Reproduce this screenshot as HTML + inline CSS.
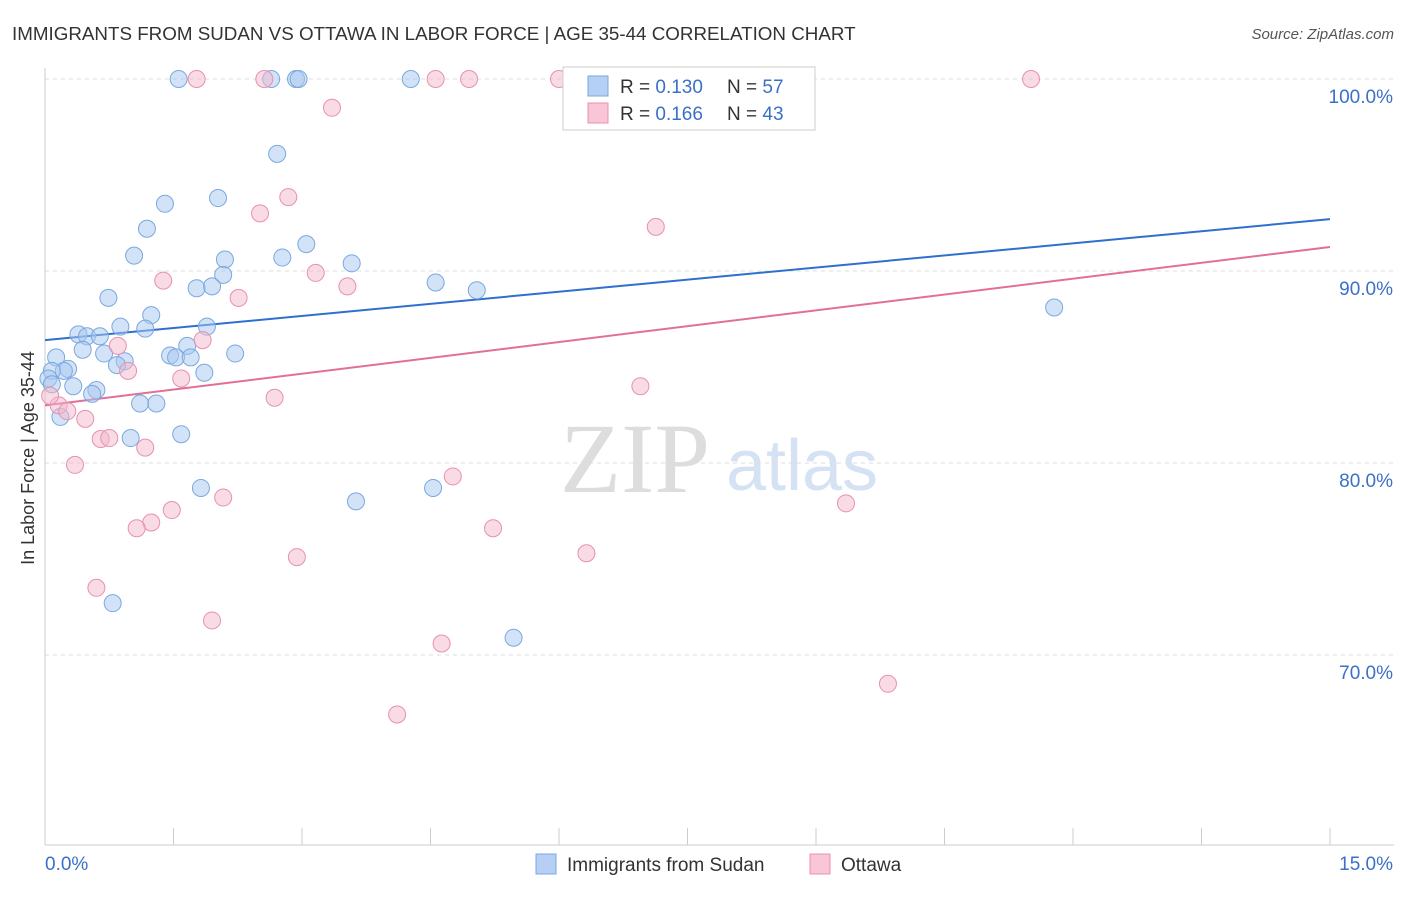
<!DOCTYPE html>
<html><head><meta charset="utf-8"><style>
body{margin:0;background:#fff;font-family:"Liberation Sans",sans-serif;}
</style></head><body>
<svg id="chart" width="1406" height="892" xmlns="http://www.w3.org/2000/svg" font-family="Liberation Sans, sans-serif">
<text x="12" y="40" font-size="18.8" fill="#333">IMMIGRANTS FROM SUDAN VS OTTAWA IN LABOR FORCE | AGE 35-44 CORRELATION CHART</text>
<text x="1394" y="39" font-size="15" fill="#555" text-anchor="end" font-style="italic">Source: ZipAtlas.com</text>
<g>
<text x="635" y="492" font-size="100" fill="#ddd" font-family="Liberation Serif, serif" text-anchor="middle">ZIP</text>
<text x="802" y="490" font-size="72" fill="#d4e2f4" text-anchor="middle">atlas</text>
</g>
<g id="grid"></g><g id="axes"></g><g id="lines"></g><g id="points"></g>
<text transform="translate(34,458) rotate(-90)" font-size="18" fill="#333" text-anchor="middle">In Labor Force | Age 35-44</text>
<g>
<rect x="563" y="67" width="252" height="63" fill="#fff" stroke="#ccc"/>
<rect x="588" y="76" width="20" height="20" fill="#b5d0f4" stroke="#7aa8e0"/>
<rect x="588" y="103" width="20" height="20" fill="#f8c6d6" stroke="#e890b0"/>
<text x="620" y="93" font-size="19" fill="#333">R = <tspan fill="#3a70c8">0.130</tspan></text>
<text x="727" y="93" font-size="19" fill="#333">N = <tspan fill="#3a70c8">57</tspan></text>
<text x="620" y="120" font-size="19" fill="#333">R = <tspan fill="#3a70c8">0.166</tspan></text>
<text x="727" y="120" font-size="19" fill="#333">N = <tspan fill="#3a70c8">43</tspan></text>
</g>
<g>
<rect x="536" y="854" width="20" height="20" fill="#b5d0f4" stroke="#7aa8e0"/>
<text x="567" y="871" font-size="19" fill="#333">Immigrants from Sudan</text>
<rect x="810" y="854" width="20" height="20" fill="#f8c6d6" stroke="#e890b0"/>
<text x="841" y="871" font-size="19" fill="#333">Ottawa</text>
</g>
</svg>
<script>
const yTicks=[70,80,90,100];
const yTickLabels=["70.0%","80.0%","90.0%","100.0%"];
const xTickLabels=["0.0%","15.0%"];
const blueX=[1.56,2.64,2.93,2.96,4.27,2.71,2.02,1.40,1.19,3.05,1.04,2.77,3.58,2.10,2.08,4.56,5.04,1.77,1.95,0.74,1.24,1.89,0.88,1.17,0.39,0.49,0.64,0.44,0.69,1.66,2.22,0.13,1.46,1.53,1.70,0.93,0.84,0.27,0.22,0.08,1.86,0.33,0.60,0.55,0.18,1.11,1.30,1.00,1.59,1.82,3.63,4.53,0.79,5.47,11.78,0.04,0.08];
const blueY=[100,100,100,100,100,96.1,93.8,93.5,92.2,91.4,90.8,90.7,90.4,90.6,89.8,89.4,89.0,89.1,89.2,88.6,87.7,87.1,87.1,87.0,86.7,86.6,86.6,85.9,85.7,86.1,85.7,85.5,85.6,85.5,85.5,85.3,85.1,84.9,84.8,84.8,84.7,84.0,83.8,83.6,82.4,83.1,83.1,81.3,81.5,78.7,78.0,78.7,72.7,70.9,88.1,84.4,84.1];
const pinkX=[1.77,2.56,4.56,4.95,6.00,8.33,11.51,3.35,2.84,2.51,7.13,3.16,3.53,1.38,2.26,0.85,1.84,0.97,1.59,0.16,0.26,0.47,2.68,6.95,0.65,0.75,1.17,0.35,2.08,4.76,1.48,1.24,1.07,5.23,9.35,2.94,6.32,0.60,1.95,4.63,4.11,9.84,0.06];
const pinkY=[100,100,100,100,100,100,100,98.5,93.85,93.0,92.3,89.9,89.2,89.5,88.6,86.1,86.4,84.8,84.4,83.0,82.7,82.3,83.4,84.0,81.25,81.3,80.8,79.9,78.2,79.3,77.55,76.9,76.6,76.6,77.9,75.1,75.3,73.5,71.8,70.6,66.9,68.5,83.5];
const trendStart=[86.4,83.0];
const trendEnd=[92.7,91.25];
const NS="http://www.w3.org/2000/svg";
const X0=45,X1=1330,Y100=79,PX10=192;
function sx(v){return X0+(v/15)*(X1-X0);}
function sy(v){return Y100+(100-v)*PX10/10;}
function mk(t,a,p){const e=document.createElementNS(NS,t);for(const k in a)e.setAttribute(k,a[k]);document.getElementById(p).appendChild(e);return e;}
yTicks.forEach((t,i)=>{
 const g=mk('line',{x1:X0,x2:1394,y1:sy(t),y2:sy(t),stroke:'#ddd','stroke-dasharray':'4,4'},'grid');
 
 
 const l=mk('text',{x:1393,y:sy(t)+24,'font-size':19,fill:'#3a70c8','text-anchor':'end'},'axes');
 l.textContent=yTickLabels[i];
 
 
});
const ax=mk('line',{x1:X0,x2:X0,y1:68,y2:845,stroke:'#ccc'},'axes');


const bx=mk('line',{x1:X0,x2:1394,y1:845,y2:845,stroke:'#ccc'},'axes');


for(let i=0;i<=10;i++){
 const t=mk('line',{x1:sx(i*1.5),x2:sx(i*1.5),y1:828,y2:845,stroke:'#ccc'},'axes');
 
 
}
[[0,'start',45],[15,'end',1393]].forEach((d,i)=>{
 const l=mk('text',{x:d[2],y:870,'font-size':19,fill:'#3a70c8','text-anchor':d[1]},'axes');
 l.textContent=xTickLabels[i];
 
 
});
function pts(xs,ys,fill,stroke,name){
 xs.forEach((x,i)=>{
  const c=mk('circle',{cx:sx(x),cy:sy(ys[i]),r:8.5,fill:fill,'fill-opacity':0.5,stroke:stroke,'stroke-width':1},'points');
  
  
 });
}
pts(blueX,blueY,'#a8c8f0','#7aa8e0','sudan-point');
pts(pinkX,pinkY,'#f4b8cc','#e890b0','ottawa-point');
const cols=['#2f6fd0','#e07098'];const nm=['sudan-trendline','ottawa-trendline'];
[0,1].forEach(i=>{
 const l=mk('line',{x1:sx(0),y1:sy(trendStart[i]),x2:sx(15),y2:sy(trendEnd[i]),stroke:cols[i],'stroke-width':2},'lines');
 
 
});
</script>
</body></html>
